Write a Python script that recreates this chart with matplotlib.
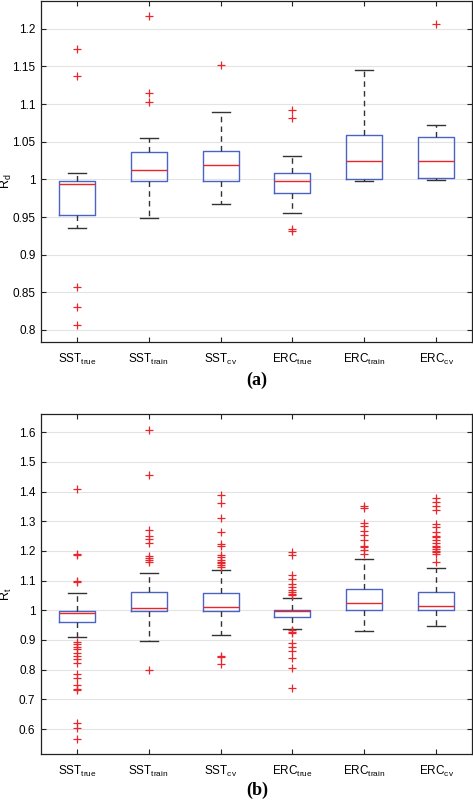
import numpy as np
import matplotlib
matplotlib.use("Agg")
import matplotlib.pyplot as plt

plt.rcParams['font.family'] = ['Liberation Sans', 'DejaVu Sans']
plt.rcParams['mathtext.fontset'] = 'custom'
plt.rcParams['mathtext.rm'] = 'Liberation Sans'
plt.rcParams['mathtext.it'] = 'Liberation Sans:italic'
plt.rcParams['mathtext.bf'] = 'Liberation Sans:bold'

# ---------------- data ----------------
categories = ["SST", "SST", "SST", "ERC", "ERC", "ERC"]
subscripts = ["true", "train", "cv", "true", "train", "cv"]

# panel (a): R_d
med_a = [0.994, 1.012, 1.019, 0.998, 1.024, 1.025]
q1_a = [0.953, 0.998, 0.998, 0.982, 1.000, 1.002]
q3_a = [0.998, 1.037, 1.038, 1.009, 1.059, 1.056]
wlo_a = [0.935, 0.949, 0.967, 0.956, 0.998, 0.999]
whi_a = [1.009, 1.055, 1.089, 1.031, 1.146, 1.072]
fliers_a = [
    [1.173, 1.138, 0.857, 0.830, 0.806],
    [1.217, 1.115, 1.103],
    [1.152],
    [1.092, 1.081, 0.934, 0.932],
    [],
    [1.206],
]

# panel (b): R_t
med_b = [0.992, 1.006, 1.012, 0.998, 1.023, 1.015]
q1_b = [0.959, 0.997, 0.997, 0.976, 1.000, 1.000]
q3_b = [0.999, 1.061, 1.057, 1.001, 1.071, 1.060]
wlo_b = [0.911, 0.897, 0.916, 0.938, 0.930, 0.948]
whi_b = [1.058, 1.124, 1.136, 1.043, 1.173, 1.143]
fliers_b = [
    [1.410, 1.191, 1.186, 1.100, 1.096,
     0.894, 0.885, 0.875, 0.868, 0.857, 0.846, 0.835, 0.822,
     0.784, 0.773, 0.750, 0.735, 0.733, 0.619, 0.602, 0.566],
    [1.608, 1.455, 1.272, 1.251, 1.239, 1.227, 1.184, 1.177, 1.169, 1.161,
     0.798],
    [1.387, 1.362, 1.310, 1.262, 1.224, 1.216, 1.185, 1.178, 1.171, 1.163,
     1.158, 1.152, 1.147, 0.846, 0.841, 0.819],
    [1.195, 1.186, 1.119, 1.107, 1.090, 1.077, 1.068, 1.062, 1.056, 1.050,
     0.933, 0.928, 0.922, 0.889, 0.875, 0.863, 0.838, 0.804, 0.739],
    [1.351, 1.345, 1.295, 1.284, 1.268, 1.252, 1.236, 1.217, 1.213, 1.203,
     1.189],
    [1.378, 1.365, 1.351, 1.337, 1.290, 1.279, 1.264, 1.250, 1.247, 1.236,
     1.225, 1.217, 1.212, 1.205, 1.200, 1.197, 1.191, 1.161],
]

yticks_a = [0.8, 0.85, 0.9, 0.95, 1.0, 1.05, 1.1, 1.15, 1.2]
yticklabels_a = ["0.8", "0.85", "0.9", "0.95", "1", "1.05", "1.1", "1.15", "1.2"]
yticks_b = [0.6, 0.7, 0.8, 0.9, 1.0, 1.1, 1.2, 1.3, 1.4, 1.5, 1.6]
yticklabels_b = ["0.6", "0.7", "0.8", "0.9", "1", "1.1", "1.2", "1.3", "1.4", "1.5", "1.6"]

BLUE = '#4a63c6'
RED = '#e8262b'

xlabels = [r'$\mathrm{%s}_{\mathrm{%s}}$' % (c, s) for c, s in zip(categories, subscripts)]


def make_stats(med, q1, q3, wlo, whi, fl):
    out = []
    for i in range(len(med)):
        out.append(dict(med=med[i], q1=q1[i], q3=q3[i], whislo=wlo[i],
                        whishi=whi[i], fliers=np.array(fl[i]), label=xlabels[i]))
    return out


def draw(ax, stats, yticks, yticklabels, ylim, ylabel):
    ax.bxp(stats, positions=range(1, len(stats) + 1), widths=0.5,
           capwidths=0.25, showfliers=True,
           boxprops=dict(color=BLUE, linewidth=1.0),
           medianprops=dict(color=RED, linewidth=1.0),
           whiskerprops=dict(color='#333333', linewidth=1.0, linestyle=(0, (4, 3))),
           capprops=dict(color='#333333', linewidth=1.0),
           flierprops=dict(marker='+', markeredgecolor=RED, markersize=6,
                           markeredgewidth=0.9, linestyle='none'))
    ax.set_xlim(0.5, 6.5)
    ax.set_ylim(*ylim)
    ax.set_yticks(yticks)
    ax.set_yticklabels(yticklabels)
    ax.set_xticks(range(1, 7))
    ax.set_xticklabels(xlabels, fontsize=9.5)
    ax.yaxis.grid(True, color='#e3e3e3', linewidth=0.8)
    ax.set_axisbelow(True)
    ax.tick_params(direction='in', top=True, right=True, length=3.5,
                   width=0.8, labelsize=8.5, color='#222222')
    ax.tick_params(axis='x', pad=7)
    ax.tick_params(axis='y', pad=4)
    for sp in ax.spines.values():
        sp.set_linewidth(0.9)
        sp.set_color('#222222')
    ax.set_ylabel(ylabel, fontsize=9)


fig = plt.figure(figsize=(4.73, 8.05), dpi=100)
ax1 = fig.add_axes([41 / 473, 463 / 805, 431 / 473, 341 / 805])
ax2 = fig.add_axes([41 / 473, 51 / 805, 431 / 473, 340 / 805])

draw(ax1, make_stats(med_a, q1_a, q3_a, wlo_a, whi_a, fliers_a),
     yticks_a, yticklabels_a, (0.784, 1.237), r'$\mathrm{R}_{\mathrm{d}}$')
draw(ax2, make_stats(med_b, q1_b, q3_b, wlo_b, whi_b, fliers_b),
     yticks_b, yticklabels_b, (0.516, 1.661), r'$\mathrm{R}_{\mathrm{t}}$')

ax1.yaxis.set_label_coords(-0.062, 0.47)
ax2.yaxis.set_label_coords(-0.062, 0.47)

fig.text(257 / 473, 1 - 380 / 805, '(a)', ha='center', va='center',
         family='Liberation Serif', fontweight='bold', fontsize=13)
fig.text(257 / 473, 1 - 790 / 805, '(b)', ha='center', va='center',
         family='Liberation Serif', fontweight='bold', fontsize=13)

fig.savefig('out.png', dpi=100)
